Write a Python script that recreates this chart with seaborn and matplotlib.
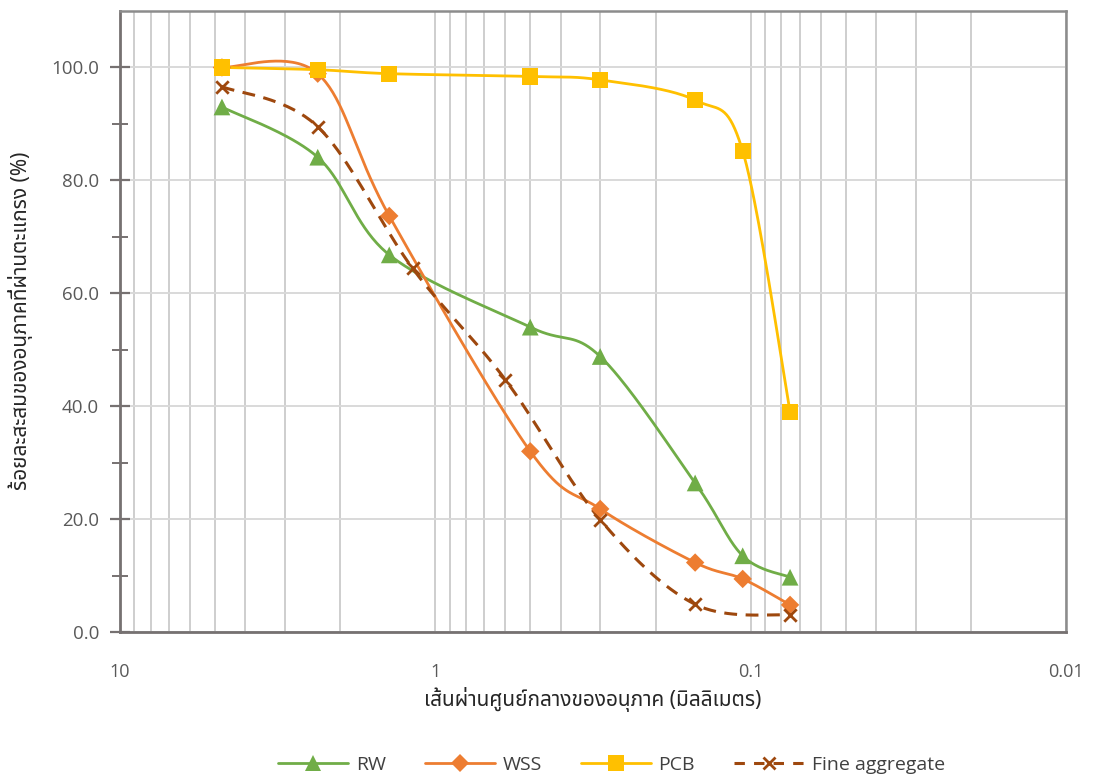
import numpy as np
import pandas as pd
import matplotlib
matplotlib.use("Agg")
import matplotlib.pyplot as plt
import seaborn as sns
from matplotlib import font_manager
from matplotlib.lines import Line2D
from matplotlib.ticker import FixedLocator, FuncFormatter, NullFormatter, LogLocator

# ---------------- data ----------------
sizes = [4.75, 2.36, 1.40, 0.50, 0.30, 0.15, 0.106, 0.075]
rw = [93.0, 84.1, 66.8, 54.0, 48.8, 26.4, 13.5, 9.7]
wss = [100.0, 98.9, 73.7, 32.0, 21.8, 12.3, 9.4, 4.8]
pcb = [100.0, 99.6, 98.9, 98.4, 97.8, 94.2, 85.2, 39.0]
fine_sizes = [4.75, 2.36, 1.18, 0.60, 0.30, 0.15, 0.075]
fine = [96.6, 89.5, 64.4, 44.7, 19.9, 4.9, 3.0]

series_names = ["RW", "WSS", "PCB", "Fine aggregate"]
x_ticks = [10, 1, 0.1, 0.01]
x_tick_labels = ["10", "1", "0.1", "0.01"]
x_label = "เส้นผ่านศูนย์กลางของอนุภาค (มิลลิเมตร)"
y_label = "ร้อยละสะสมของอนุภาคที่ผ่านตะแกรง (%)"

# ---------------- fonts ----------------
sns.set_theme(style="white")


def find_thai_family():
    try:
        from fontTools.ttLib import TTFont
    except Exception:
        return None
    found = []
    seen = set()
    for f in font_manager.fontManager.ttflist:
        if f.fname in seen:
            continue
        seen.add(f.fname)
        try:
            if f.fname.lower().endswith(".ttc"):
                tt = TTFont(f.fname, fontNumber=0, lazy=True)
            else:
                tt = TTFont(f.fname, lazy=True)
            cmap = tt.getBestCmap()
            if cmap and 0x0E2A in cmap and 0x0E49 in cmap and 0x0E01 in cmap:
                found.append(f.name)
        except Exception:
            pass
    prefs = ["Noto Sans Thai", "Noto Sans Thai UI", "Tahoma", "Leelawadee UI",
             "Loma", "Garuda", "Waree", "Umpush", "Kinnari", "Sawasdee", "Norasi"]
    for p in prefs:
        if p in found:
            return p
    return found[0] if found else None


thai = find_thai_family()
base = "Open Sans"
fams = [base, "DejaVu Sans"]
thai_fams = ([thai] if thai else []) + [base, "DejaVu Sans"]
plt.rcParams["font.family"] = fams

# ---------------- figure ----------------
fig = plt.figure(figsize=(10.94, 7.78), dpi=100)
L, R, B, T = 120 / 1094, 1066 / 1094, (778 - 632) / 778, (778 - 11) / 778
ax = fig.add_axes([L, B, R - L, T - B])

ax.set_xscale("log")
ax.set_xlim(10, 0.01)
ax.set_ylim(0, 110)

px_per_dec = (R - L) * 1094 / 3.0
px_per_unit = (T - B) * 778 / 110.0

colors = {"RW": "#70AD47", "WSS": "#ED7D31", "PCB": "#FFC000", "Fine aggregate": "#9E480E"}
markers = {"RW": "^", "WSS": "D", "PCB": "s", "Fine aggregate": "x"}
msize = {"RW": 145, "WSS": 88, "PCB": 135, "Fine aggregate": 80}


def smooth(xs, ys, n=40):
    """Excel-like smoothed line (Catmull-Rom Bezier in screen space)."""
    u = -np.log10(np.asarray(xs, float)) * px_per_dec
    v = np.asarray(ys, float) * px_per_unit
    P = np.column_stack([u, v])
    m = len(P)
    out = []
    for i in range(m - 1):
        p0 = P[i - 1] if i > 0 else P[i]
        p1 = P[i]
        p2 = P[i + 1]
        p3 = P[i + 2] if i + 2 < m else P[i + 1]
        c1 = p1 + (p2 - p0) / 6.0
        c2 = p2 - (p3 - p1) / 6.0
        t = np.linspace(0, 1, n)[:, None]
        seg = ((1 - t) ** 3) * p1 + 3 * ((1 - t) ** 2) * t * c1 + 3 * (1 - t) * t ** 2 * c2 + t ** 3 * p2
        out.append(seg if i == 0 else seg[1:])
    S = np.vstack(out)
    return 10 ** (-S[:, 0] / px_per_dec), S[:, 1] / px_per_unit


data = {
    "RW": (sizes, rw),
    "WSS": (sizes, wss),
    "PCB": (sizes, pcb),
    "Fine aggregate": (fine_sizes, fine),
}

df = pd.concat(
    [pd.DataFrame({"size": xs, "value": ys, "series": name}) for name, (xs, ys) in data.items()],
    ignore_index=True,
)

lw = 2.0
for k, name in enumerate(series_names):
    xs, ys = data[name]
    sx, sy = smooth(xs, ys)
    if name == "Fine aggregate":
        ax.plot(sx, sy, color=colors[name], lw=lw + 0.2, dashes=(4.2, 2.8), zorder=3 + k)
    else:
        ax.plot(sx, sy, color=colors[name], lw=lw, zorder=3 + k, solid_capstyle="round")

for k, name in enumerate(series_names):
    sub = df[df["series"] == name]
    if name == "Fine aggregate":
        sns.scatterplot(data=sub, x="size", y="value", ax=ax, marker="x", color=colors[name],
                        s=msize[name], linewidth=2.0, legend=False, zorder=10 + k)
    else:
        sns.scatterplot(data=sub, x="size", y="value", ax=ax, marker=markers[name], color=colors[name],
                        s=msize[name], linewidth=0, edgecolor="none", legend=False, zorder=10 + k)

# ---------------- axes styling ----------------
ax.set_xlabel("")
ax.set_ylabel("")
ax.xaxis.set_major_locator(FixedLocator(x_ticks))
ax.xaxis.set_major_formatter(FuncFormatter(lambda v, p: x_tick_labels[x_ticks.index(v)] if v in x_ticks else ""))
ax.xaxis.set_minor_locator(LogLocator(base=10, subs=np.arange(2, 10)))
ax.xaxis.set_minor_formatter(NullFormatter())
ax.yaxis.set_major_locator(FixedLocator([0, 20, 40, 60, 80, 100]))
ax.yaxis.set_minor_locator(FixedLocator([10, 30, 50, 70, 90]))
ax.yaxis.set_major_formatter(FuncFormatter(lambda v, p: f"{v:.1f}"))

ax.grid(False)
ax.grid(which="major", axis="y", color="#d9d9d9", lw=1.4, zorder=0)
ax.grid(which="both", axis="x", color="#c6c6c6", lw=1.2, zorder=0)
ax.set_axisbelow(True)

for side in ["left", "bottom"]:
    ax.spines[side].set_color("#767171")
    ax.spines[side].set_linewidth(2.0)
for side in ["top", "right"]:
    ax.spines[side].set_color("#8c8c8c")
    ax.spines[side].set_linewidth(1.8)
    ax.spines[side].set_visible(True)

ax.tick_params(axis="y", which="major", direction="inout", length=14, width=1.6, color="#767171",
               labelsize=13.5, labelcolor="#595959", pad=8, left=True)
ax.tick_params(axis="y", which="minor", direction="inout", length=12, width=1.4, color="#767171", left=True)
ax.tick_params(axis="x", which="both", length=0, labelsize=13, labelcolor="#595959", pad=22)

fig.text((L + R) / 2, (778 - 700) / 778, x_label, ha="center", va="center", fontsize=15,
         color="#262626", family=thai_fams)
fig.text(21 / 1094, (778 - 321) / 778, y_label, ha="center", va="center", rotation=90, fontsize=15,
         color="#262626", family=thai_fams)

# ---------------- legend ----------------
handles = []
for name in series_names:
    if name == "Fine aggregate":
        h = Line2D([0], [0], color=colors[name], lw=lw + 0.2, dashes=(3.4, 3.0), marker="x",
                   markersize=np.sqrt(msize[name]), markeredgewidth=2.0)
    else:
        h = Line2D([0], [0], color=colors[name], lw=lw, marker=markers[name],
                   markersize=np.sqrt(msize[name]), markeredgewidth=0)
    handles.append(h)

fig.legend(handles, series_names, loc="center", bbox_to_anchor=(0.559, (778 - 765) / 778), ncol=4,
           frameon=False, fontsize=14, handlelength=3.6, handletextpad=0.4, columnspacing=2.0,
           labelcolor="#404040")

fig.savefig("out.png", dpi=100)
